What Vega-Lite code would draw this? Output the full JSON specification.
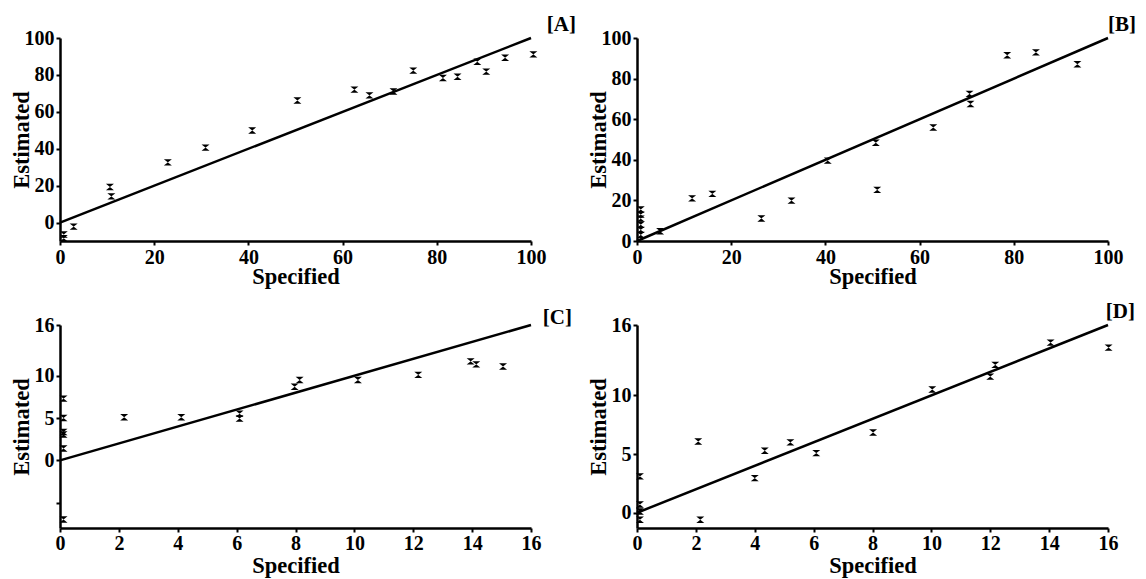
{
"$schema":"https://vega.github.io/schema/vega-lite/v6.json",
"background":"white",
"padding":{"left":10,"top":14,"right":5,"bottom":5},
"datasets":{
"A":[{"x":0.8,"y":-6.5},{"x":0.8,"y":-8.5},{"x":2.9,"y":-2.2},{"x":10.6,"y":19.3},{"x":10.9,"y":14.2},{"x":22.9,"y":32.6},{"x":30.9,"y":40.6},{"x":40.8,"y":49.9},{"x":50.4,"y":66.1},{"x":62.5,"y":72.0},{"x":65.7,"y":68.9},{"x":70.8,"y":71.0},{"x":75.0,"y":82.3},{"x":81.3,"y":78.3},{"x":84.4,"y":79.0},{"x":88.6,"y":87.1},{"x":90.5,"y":81.8},{"x":94.5,"y":89.3},{"x":100.5,"y":91.1}],
"B":[{"x":0.8,"y":15.5},{"x":0.8,"y":13},{"x":0.8,"y":11},{"x":0.8,"y":8},{"x":0.8,"y":5.5},{"x":0.8,"y":3},{"x":4.9,"y":4.8},{"x":11.7,"y":21.0},{"x":16.0,"y":23.2},{"x":26.4,"y":11.1},{"x":32.8,"y":19.9},{"x":40.5,"y":39.6},{"x":50.7,"y":48.4},{"x":51.0,"y":25.2},{"x":62.9,"y":55.9},{"x":70.6,"y":72.5},{"x":70.8,"y":67.5},{"x":78.6,"y":91.5},{"x":84.7,"y":92.9},{"x":93.5,"y":87.1}],
"C":[{"x":0.12,"y":7.3},{"x":0.12,"y":5.0},{"x":0.12,"y":3.35},{"x":0.12,"y":3.05},{"x":0.12,"y":1.4},{"x":0.12,"y":-7.0},{"x":2.18,"y":5.1},{"x":4.12,"y":5.1},{"x":6.1,"y":5.5},{"x":6.1,"y":4.95},{"x":7.97,"y":8.7},{"x":8.14,"y":9.5},{"x":10.12,"y":9.5},{"x":12.17,"y":10.1},{"x":13.95,"y":11.7},{"x":14.14,"y":11.35},{"x":15.05,"y":11.1}],
"D":[{"x":0.1,"y":3.1},{"x":0.1,"y":0.7},{"x":0.1,"y":0.1},{"x":0.1,"y":-0.6},{"x":2.08,"y":6.07},{"x":2.15,"y":-0.6},{"x":4.0,"y":2.95},{"x":4.34,"y":5.28},{"x":5.21,"y":6.0},{"x":6.09,"y":5.08},{"x":8.02,"y":6.84},{"x":10.03,"y":10.5},{"x":12.0,"y":11.6},{"x":12.17,"y":12.6},{"x":14.05,"y":14.5},{"x":16.02,"y":14.07}],
"line100":[{"x":0,"y":0},{"x":100,"y":100}],
"line16":[{"x":0,"y":0},{"x":16,"y":16}]
},
"config":{
"view":{"stroke":null},
"font":"Liberation Serif",
"axis":{"grid":false,"domainColor":"black","domainWidth":2.5,"tickColor":"black","tickWidth":2,"tickSize":4,"labelFont":"Liberation Serif","labelFontWeight":"bold","labelFontSize":20,"labelColor":"black","labelPadding":2,"labelFlush":false,"labelOverlap":false,"labelBound":false,"titleFont":"Liberation Serif","titleFontWeight":"bold","titleFontSize":22.5,"titleColor":"black","titleBaseline":"alphabetic"},
"title":{"font":"Liberation Serif","fontWeight":"bold","fontSize":21,"color":"black","anchor":"end","frame":"group","offset":0}
},
"columns":2,
"spacing":{"row":84,"column":106},
"bounds":"flush",
"concat":[
{"width":471,"height":203,"title":{"text":"[A]","dx":45,"dy":11},
"encoding":{
"x":{"field":"x","type":"quantitative","scale":{"domain":[0,100],"nice":false,"zero":false},"axis":{"values":[0,20,40,60,80,100],"title":"Specified","titleX":235.5,"titleY":42}},
"y":{"field":"y","type":"quantitative","scale":{"domain":[-10,100],"nice":false,"zero":false},"axis":{"values":[0,20,40,60,80,100],"title":"Estimated","titleX":-32,"titleY":101.5}}},
"layer":[
{"data":{"name":"A"},"mark":{"type":"point","shape":"M-1,-0.8H1L-1,0.8H1Z","filled":true,"size":64,"color":"black","opacity":1}},
{"data":{"name":"line100"},"mark":{"type":"line","color":"black","strokeWidth":2.5}}]},
{"width":471,"height":203,"title":{"text":"[B]","dx":28,"dy":11},
"encoding":{
"x":{"field":"x","type":"quantitative","scale":{"domain":[0,100],"nice":false,"zero":false},"axis":{"values":[0,20,40,60,80,100],"title":"Specified","titleX":235.5,"titleY":42}},
"y":{"field":"y","type":"quantitative","scale":{"domain":[0,100],"nice":false,"zero":false},"axis":{"values":[0,20,40,60,80,100],"title":"Estimated","titleX":-32,"titleY":101.5}}},
"layer":[
{"data":{"name":"B"},"mark":{"type":"point","shape":"M-1,-0.8H1L-1,0.8H1Z","filled":true,"size":64,"color":"black","opacity":1}},
{"data":{"name":"line100"},"mark":{"type":"line","color":"black","strokeWidth":2.5}}]},
{"width":471,"height":203,"title":{"text":"[C]","dx":41,"dy":17},
"encoding":{
"x":{"field":"x","type":"quantitative","scale":{"domain":[0,16],"nice":false,"zero":false},"axis":{"values":[0,2,4,6,8,10,12,14,16],"labelPadding":1,"title":"Specified","titleX":235.5,"titleY":44}},
"y":{"field":"y","type":"quantitative","scale":{"domain":[-8,16],"nice":false,"zero":false},"axis":{"values":[-5,0,5,10,16],"labelExpr":"datum.value == -5 ? '' : datum.label","title":"Estimated","titleX":-32,"titleY":101.5}}},
"layer":[
{"data":{"name":"C"},"mark":{"type":"point","shape":"M-1,-0.8H1L-1,0.8H1Z","filled":true,"size":64,"color":"black","opacity":1}},
{"data":{"name":"line16"},"mark":{"type":"line","color":"black","strokeWidth":2.5}}]},
{"width":471,"height":203,"title":{"text":"[D]","dx":27,"dy":11},
"encoding":{
"x":{"field":"x","type":"quantitative","scale":{"domain":[0,16],"nice":false,"zero":false},"axis":{"values":[0,2,4,6,8,10,12,14,16],"labelPadding":1,"title":"Specified","titleX":235.5,"titleY":44}},
"y":{"field":"y","type":"quantitative","scale":{"domain":[-1.3,16],"nice":false,"zero":false},"axis":{"values":[0,5,10,16],"title":"Estimated","titleX":-32,"titleY":101.5}}},
"layer":[
{"data":{"name":"D"},"mark":{"type":"point","shape":"M-1,-0.8H1L-1,0.8H1Z","filled":true,"size":64,"color":"black","opacity":1}},
{"data":{"name":"line16"},"mark":{"type":"line","color":"black","strokeWidth":2.5}}]}
]
}
